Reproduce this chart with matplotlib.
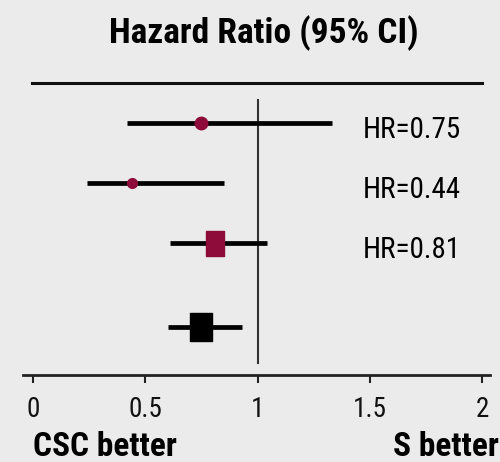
import matplotlib.pyplot as plt
from matplotlib.path import Path
import numpy as np

# hazard ratios with 95% confidence limits, last row is the pooled estimate
hr = [0.75, 0.44, 0.81, 0.75]
ci_low = [0.42, 0.24, 0.61, 0.60]
ci_high = [1.33, 0.85, 1.04, 0.93]
hr_labels = ['HR=0.75', 'HR=0.44', 'HR=0.81', '']
xticks = [0, 0.5, 1, 1.5, 2]
xticklabels = ['0', '0.5', '1', '1.5', '2']

NARROW = ['Roboto Condensed', 'DejaVu Sans']
bg = '#ebebeb'
red = '#8e0c3a'

def box(w, h):
	# rectangle marker with its own aspect ratio
	return Path([(-w, -h), (w, -h), (w, h), (-w, h), (-w, -h)],
		[Path.MOVETO, Path.LINETO, Path.LINETO, Path.LINETO, Path.CLOSEPOLY])

rows = [0, 1, 2, 3.4]
markers = ['o', 'o', box(0.36, 0.5), box(0.39, 0.5)]
msizes = [9, 7, 18, 20]
mcolors = [red, red, red, 'black']

fig = plt.figure(figsize=(5, 4.62), dpi=100, facecolor=bg)
ax = fig.add_axes([0, 1 - 375 / 462, 1, 375 / 462], facecolor=bg)
ax.set_xlim(-0.147, 2.080)
ax.set_ylim(4.2, -2.05)

for s in ['top', 'left', 'right']:
	ax.spines[s].set_visible(False)
ax.spines['bottom'].set_bounds(-0.045, 2.036)
ax.spines['bottom'].set_linewidth(2)
ax.spines['bottom'].set_color('#222222')

ax.set_xticks(xticks)
ax.set_xticklabels(xticklabels, family=NARROW, fontsize=19.5, color='#111111')
ax.tick_params(axis='x', direction='out', length=6, width=1.5, pad=9, color='#222222')
ax.set_yticks([])

# no-effect line at HR = 1
ax.plot([1, 1], [-0.38, 4.0], color='#333333', lw=1.5)

for i in range(len(hr)):
	ax.plot([ci_low[i], ci_high[i]], [rows[i], rows[i]], color='black', lw=3.4, solid_capstyle='butt')
	ax.plot(hr[i], rows[i], marker=markers[i], ms=msizes[i], color=mcolors[i], mec=mcolors[i], ls='none')
	if hr_labels[i]:
		ax.text(1.47, rows[i] + 0.12, hr_labels[i], family=NARROW, fontsize=21, va='center', ha='left')

ax.plot([-0.005, 2.0], [-0.667, -0.667], color='#111111', lw=2.2, clip_on=False)
ax.text(1.03, -1.5, 'Hazard Ratio (95% CI)', family=NARROW, fontweight='bold', fontsize=25.5,
	ha='center', va='center')

ax.text(0.0, 5.4, 'CSC better', family=NARROW, fontweight='bold', fontsize=24,
	ha='left', va='center', clip_on=False)
ax.text(2.075, 5.4, 'S better', family=NARROW, fontweight='bold', fontsize=24,
	ha='right', va='center', clip_on=False)

plt.savefig('out.png', dpi=100, facecolor=bg)
